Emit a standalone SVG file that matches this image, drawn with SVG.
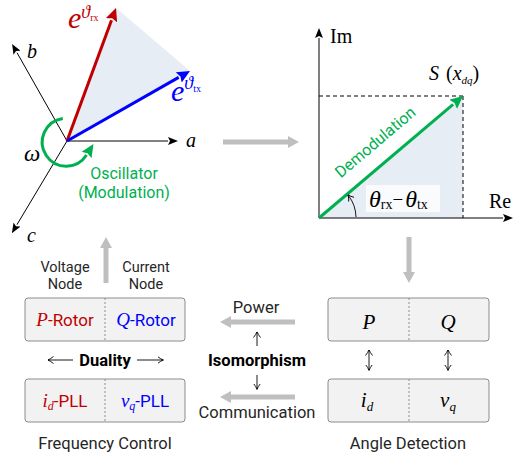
<svg xmlns="http://www.w3.org/2000/svg" width="514" height="458" viewBox="0 0 514 458">
  <style>
    .sans { font-family: Roboto, "Open Sans", sans-serif; fill: #262626; }
    .math { font-family: "Liberation Serif", "DejaVu Serif", serif; font-style: italic; }
    .rm { font-family: "Liberation Serif", "DejaVu Serif", serif; font-style: normal; }
    .ax { stroke: #000; stroke-width: 1; fill: none; }
    .dash { stroke: #000; stroke-width: 1; stroke-dasharray: 4 3; fill: none; }
    .box { fill: #f2f2f2; stroke: #8c8c8c; stroke-width: 1; }
    .div { stroke: #8c8c8c; stroke-width: 1; stroke-dasharray: 2 2; }
    .flow { stroke: #bfbfbf; stroke-width: 5; fill: none; }
    .thin { stroke: #000; stroke-width: 0.9; fill: none; }
    .red { fill: #c00000; }
    .blue { fill: #0000ff; }
  </style>
  <defs>
    <marker id="axHead" viewBox="0 0 10 8" refX="0" refY="4" markerWidth="10" markerHeight="8" markerUnits="userSpaceOnUse" orient="auto">
      <path d="M0,0 L10,4 L0,8 L2,4 z" fill="#000"/>
    </marker>
    <marker id="redHead" viewBox="0 -6 13 12" refX="0" refY="0" markerWidth="13" markerHeight="12" markerUnits="userSpaceOnUse" orient="auto">
      <path d="M0,-6 L13,0 L0,6 L2,0 z" fill="#c00000"/>
    </marker>
    <marker id="blueHead" viewBox="0 -6 13 12" refX="0" refY="0" markerWidth="13" markerHeight="12" markerUnits="userSpaceOnUse" orient="auto">
      <path d="M0,-6 L13,0 L0,6 L2,0 z" fill="#0000ff"/>
    </marker>
    <marker id="greenHead" viewBox="0 -6 13 12" refX="0" refY="0" markerWidth="13" markerHeight="12" markerUnits="userSpaceOnUse" orient="auto">
      <path d="M0,-6 L13,0 L0,6 L2,0 z" fill="#00b050"/>
    </marker>
    <marker id="grayHead" viewBox="0 -6 11 12" refX="0" refY="0" markerWidth="11" markerHeight="12" markerUnits="userSpaceOnUse" orient="auto">
      <path d="M0,-6 L11,0 L0,6 z" fill="#bfbfbf"/>
    </marker>
    <marker id="tick" viewBox="0 -4 6 8" refX="5.5" refY="0" markerWidth="6" markerHeight="8" markerUnits="userSpaceOnUse" orient="auto">
      <path d="M0,-3.5 Q3,-1 6,0 Q3,1 0,3.5" fill="none" stroke="#000" stroke-width="0.9"/>
    </marker>
  </defs>

  <!-- abc frame with rotating phasors -->
  <g id="phasor-abc">
    <polygon points="67,141 116,8 190,71" fill="#e7edf5"/>
    <line class="ax" x1="67" y1="141" x2="168" y2="141" marker-end="url(#axHead)"/>
    <line class="ax" x1="67" y1="141" x2="17" y2="52.7" marker-end="url(#axHead)"/>
    <line class="ax" x1="67" y1="141" x2="17" y2="224.6" marker-end="url(#axHead)"/>
    <text class="math" x="186" y="147" font-size="20" fill="#000">a</text>
    <text class="math" x="27" y="58" font-size="20" fill="#000">b</text>
    <text class="math" x="27" y="242" font-size="20" fill="#000">c</text>
    <line x1="67" y1="141" x2="111.5" y2="20.2" stroke="#c00000" stroke-width="3" marker-end="url(#redHead)"/>
    <line x1="67" y1="141" x2="178.7" y2="77.4" stroke="#0000ff" stroke-width="3" marker-end="url(#blueHead)"/>
    <text class="math red" x="68" y="28" font-size="30">e<tspan font-size="18" dy="-10">ϑ</tspan><tspan class="rm" font-size="10" dy="3">rx</tspan></text>
    <text class="math blue" x="171" y="101" font-size="30">e<tspan font-size="18" dy="-12">ϑ</tspan><tspan class="rm" font-size="10" dy="3">tx</tspan></text>
    <path d="M62.8,118.4 A24,24 0 1 0 86.5,155" fill="none" stroke="#00b050" stroke-width="3" marker-end="url(#greenHead)"/>
    <text class="math" x="24" y="161" font-size="23" fill="#000">ω</text>
    <text class="sans" font-size="16" text-anchor="middle" style="fill:#00b050"><tspan x="124" y="179">Oscillator</tspan><tspan x="124" y="198">(Modulation)</tspan></text>
  </g>

  <!-- complex plane after demodulation -->
  <g id="phasor-dq">
    <polygon points="319,218 463,96 463,218" fill="#e7edf5"/>
    <line class="ax" x1="319" y1="218" x2="319" y2="38" marker-end="url(#axHead)"/>
    <line class="ax" x1="319" y1="218" x2="503" y2="218" marker-end="url(#axHead)"/>
    <text class="rm" x="330" y="43" font-size="20" fill="#000">Im</text>
    <text class="rm" x="489" y="208" font-size="20" fill="#000">Re</text>
    <line class="dash" x1="319" y1="96" x2="463" y2="96"/>
    <line class="dash" x1="463" y1="96" x2="463" y2="218"/>
    <line x1="319" y1="218" x2="453.1" y2="104.4" stroke="#00b050" stroke-width="3" marker-end="url(#greenHead)"/>
    <text class="sans" font-size="16" text-anchor="middle" transform="translate(375.6,142.5) rotate(-40.3)" y="5" style="fill:#00b050">Demodulation</text>
    <text class="math" x="429" y="80" font-size="20" fill="#000">S <tspan class="rm" dx="2">(</tspan>x<tspan font-size="11" dy="4">dq</tspan><tspan class="rm" dy="-4">)</tspan></text>
    <rect x="366" y="185" width="74" height="27" fill="#fafbfd"/>
    <path class="thin" d="M356,217 A37,37 0 0 0 348.2,195.2" marker-end="url(#tick)"/>
    <text class="math" x="369" y="207" font-size="24" fill="#000">θ<tspan class="rm" font-size="14" dy="2">rx</tspan><tspan class="rm" font-size="19" dy="-3">−</tspan><tspan dx="2" dy="1">θ</tspan><tspan class="rm" font-size="14" dy="2">tx</tspan></text>
  </g>

  <!-- frequency control pair -->
  <g id="freq-control">
    <text class="sans" font-size="14.5" text-anchor="middle"><tspan x="65" y="271.5">Voltage</tspan><tspan x="65" y="288.5">Node</tspan></text>
    <text class="sans" font-size="14.5" text-anchor="middle"><tspan x="146" y="271.5">Current</tspan><tspan x="146" y="288.5">Node</tspan></text>
    <rect class="box" x="25" y="298" width="160" height="43" rx="3"/>
    <line class="div" x1="105" y1="298" x2="105" y2="341"/>
    <text class="sans" x="65" y="326" font-size="17" text-anchor="middle" style="fill:#c00000"><tspan class="math" font-size="19">P</tspan>-Rotor</text>
    <text class="sans" x="146" y="326" font-size="17" text-anchor="middle" style="fill:#0000ff"><tspan class="math" font-size="19">Q</tspan>-Rotor</text>
    <text class="sans" x="105" y="366" font-size="16.5" font-weight="bold" text-anchor="middle" style="fill:#000">Duality</text>
    <rect class="box" x="25" y="379" width="160" height="43" rx="3"/>
    <line class="div" x1="105" y1="379" x2="105" y2="422"/>
    <text class="sans" x="65" y="407" font-size="17" text-anchor="middle" style="fill:#c00000"><tspan class="math" font-size="19">i</tspan><tspan class="math" font-size="12" dy="3">d</tspan><tspan dy="-3">-PLL</tspan></text>
    <text class="sans" x="145" y="407" font-size="17" text-anchor="middle" style="fill:#0000ff"><tspan class="math" font-size="19">v</tspan><tspan class="math" font-size="12" dy="3">q</tspan><tspan dy="-3">-PLL</tspan></text>
    <text class="sans" x="105" y="449" font-size="16.5" text-anchor="middle">Frequency Control</text>
  </g>

  <!-- angle detection pair -->
  <g id="angle-detect">
    <rect class="box" x="328" y="298" width="161" height="43" rx="3"/>
    <line class="div" x1="409" y1="298" x2="409" y2="341"/>
    <text class="math" x="369" y="329" font-size="21" text-anchor="middle" fill="#000">P</text>
    <text class="math" x="448" y="329" font-size="21" text-anchor="middle" fill="#000">Q</text>
    <rect class="box" x="328" y="379" width="161" height="43" rx="3"/>
    <line class="div" x1="409" y1="379" x2="409" y2="422"/>
    <text class="math" x="367" y="407" font-size="21" text-anchor="middle" fill="#000">i<tspan font-size="13" dy="4">d</tspan></text>
    <text class="math" x="448" y="407" font-size="21" text-anchor="middle" fill="#000">v<tspan font-size="13" dy="4">q</tspan></text>
    <text class="sans" x="408" y="449" font-size="16.5" text-anchor="middle">Angle Detection</text>
  </g>

  <!-- isomorphism labels -->
  <g id="isomorphism">
    <text class="sans" x="256" y="313" font-size="16.5" text-anchor="middle">Power</text>
    <text class="sans" x="257" y="366" font-size="16.5" font-weight="bold" text-anchor="middle" style="fill:#000">Isomorphism</text>
    <text class="sans" x="257" y="418" font-size="16.5" text-anchor="middle">Communication</text>
  </g>

  <!-- connectors -->
  <g id="connectors">
    <line class="flow" x1="223" y1="142" x2="288" y2="142" marker-end="url(#grayHead)"/>
    <line class="flow" x1="409" y1="237" x2="409" y2="272" marker-end="url(#grayHead)"/>
    <line class="flow" x1="106" y1="283" x2="106" y2="248" marker-end="url(#grayHead)"/>
    <line class="flow" x1="295" y1="322" x2="231" y2="322" marker-end="url(#grayHead)"/>
    <line class="flow" x1="295" y1="397" x2="231" y2="397" marker-end="url(#grayHead)"/>
    <line class="thin" x1="257" y1="346" x2="257" y2="332" marker-end="url(#tick)"/>
    <line class="thin" x1="257" y1="375" x2="257" y2="389" marker-end="url(#tick)"/>
    <line class="thin" x1="73" y1="360" x2="48" y2="360" marker-end="url(#tick)"/>
    <line class="thin" x1="137" y1="360" x2="163" y2="360" marker-end="url(#tick)"/>
    <line class="thin" x1="369" y1="360" x2="369" y2="350" marker-end="url(#tick)"/>
    <line class="thin" x1="369" y1="360" x2="369" y2="370" marker-end="url(#tick)"/>
    <line class="thin" x1="448" y1="360" x2="448" y2="350" marker-end="url(#tick)"/>
    <line class="thin" x1="448" y1="360" x2="448" y2="370" marker-end="url(#tick)"/>
  </g>
</svg>
